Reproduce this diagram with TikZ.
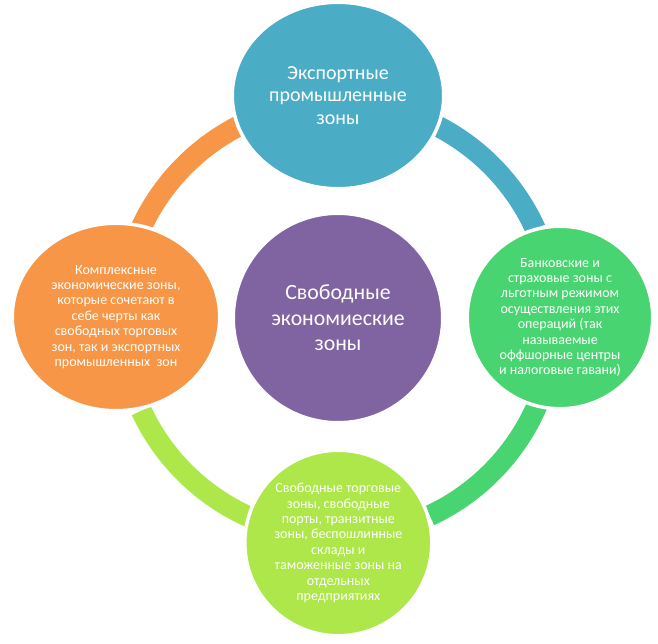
\documentclass[tikz,border=0pt]{standalone}
\usepackage{fontspec}
\setmainfont{Carlito}
\usetikzlibrary{shapes.geometric,calc}
\definecolor{cteal}{HTML}{4BACC6}
\definecolor{cpurple}{HTML}{8064A2}
\definecolor{corange}{HTML}{F79646}
\definecolor{cgreen}{HTML}{48D470}
\definecolor{clime}{HTML}{ADE74A}
\begin{document}
\begin{tikzpicture}[x=1pt,y=1pt,
  bubble/.style={ellipse, draw=white, line width=3.5pt, inner sep=0pt, text=white, align=center},
  band/.style={line width=21pt},
  bigtxt/.style={font=\fontsize{21.8}{25.5}\selectfont},
  midtxt/.style={font=\fontsize{20}{22.5}\selectfont},
  smalltxt/.style={font=\fontsize{14}{15.4}\selectfont}]
\useasboundingbox (0,0) rectangle (658,644);
\coordinate (c) at (338,325);
% ring bands
\draw[band,cteal]   ($(c)+(90:217)$)  arc[start angle=90,  end angle=24.5, radius=217];
\draw[band,cgreen]  ($(c)+(0:217)$)   arc[start angle=0,   end angle=-65,  radius=217];
\draw[band,clime]   ($(c)+(-90:217)$) arc[start angle=-90, end angle=-155, radius=217];
\draw[band,corange] ($(c)+(180:217)$) arc[start angle=180, end angle=117,  radius=217];
% bubbles
\node[bubble, fill=cpurple, minimum width=209.5pt, minimum height=209.5pt, bigtxt] (mid) at (338,326)
  {Свободные\\экономиеские\\зоны};
\node[bubble, fill=cteal, minimum width=211.5pt, minimum height=186.5pt, midtxt] (top) at (338,548.5)
  {Экспортные\\промышленные\\зоны};
\node[bubble, fill=corange, minimum width=207.5pt, minimum height=187.5pt, smalltxt] (left) at (116,327)
  {Комплексные\\экономические зоны,\\которые сочетают в\\себе черты как\\свободных торговых\\зон, так и экспортных\\промышленных~ зон};
\node[bubble, fill=cgreen, minimum width=185.5pt, minimum height=182.5pt, smalltxt] (right) at (560,326.5)
  {Банковские и\\страховые зоны с\\льготным режимом\\осуществления этих\\операций (так\\называемые\\оффшорные центры\\и налоговые гавани)};
\node[bubble, fill=clime, minimum width=187pt, minimum height=185.5pt, smalltxt] (bottom) at (338.3,101)
  {Свободные торговые\\зоны, свободные\\порты, транзитные\\зоны, беспошлинные\\склады и\\таможенные зоны на\\отдельных\\предприятиях};
\end{tikzpicture}
\end{document}
